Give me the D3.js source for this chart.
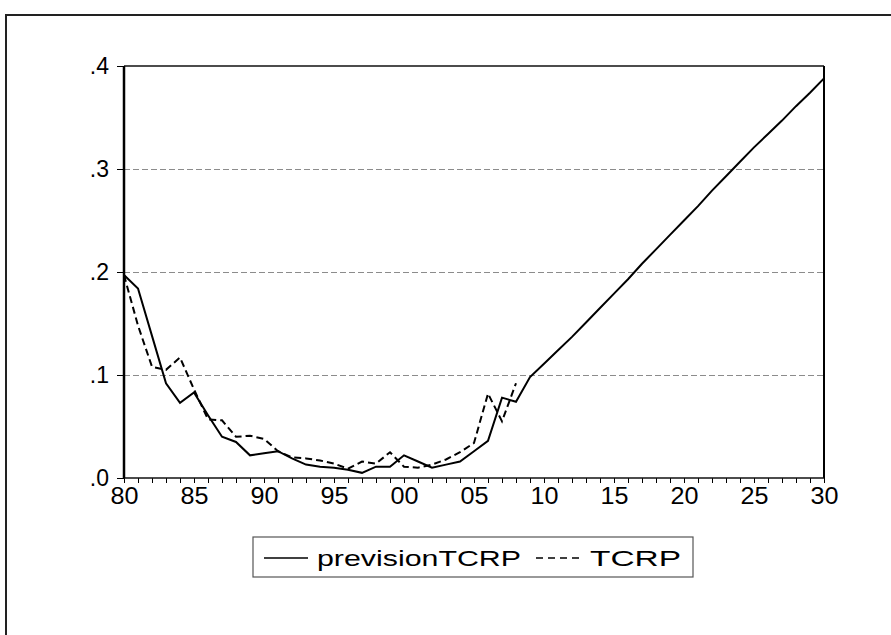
<!DOCTYPE html>
<html>
<head>
<meta charset="utf-8">
<script src="https://cdn.jsdelivr.net/npm/d3@7"></script>
<style>
  html, body { margin: 0; padding: 0; background: #fff; }
  svg { display: block; }
  text { font-family: Arial, "Liberation Sans", sans-serif; fill: #000; }
</style>
</head>
<body>
<svg id="chart" width="891" height="635"></svg>
<script>
const years = d3.range(1980, 2031);
const previsionTCRP = [
  0.197, 0.184, 0.138, 0.092, 0.073, 0.083, 0.061, 0.040, 0.035, 0.022,
  0.024, 0.026, 0.019, 0.013, 0.011, 0.010, 0.008, 0.005, 0.011, 0.011,
  0.022, 0.016, 0.010, 0.013, 0.016, 0.026, 0.036, 0.078, 0.074, 0.098,
  0.111, 0.124, 0.137, 0.151, 0.165, 0.179, 0.193, 0.208, 0.222, 0.236,
  0.250, 0.264, 0.279, 0.293, 0.307, 0.321, 0.334, 0.347, 0.361, 0.374,
  0.388
];
const TCRP = [
  0.197, 0.148, 0.108, 0.105, 0.117, 0.086, 0.057, 0.056, 0.040, 0.041,
  0.038, 0.026, 0.020, 0.019, 0.017, 0.014, 0.009, 0.016, 0.014, 0.025,
  0.011, 0.010, 0.013, 0.018, 0.025, 0.034, 0.082, 0.055, 0.092
];
const xTickYears = [1980, 1985, 1990, 1995, 2000, 2005, 2010, 2015, 2020, 2025, 2030];
const xTickLabels = ["80", "85", "90", "95", "00", "05", "10", "15", "20", "25", "30"];
const yTicks = [0, 0.1, 0.2, 0.3, 0.4];
const yTickLabels = [".0", ".1", ".2", ".3", ".4"];
const gridValues = [0.1, 0.2, 0.3];
const seriesNames = ["previsionTCRP", "TCRP"];

const svg = d3.select("#chart");
const L = 124, R = 824, T = 66, B = 478;
const x = d3.scaleLinear().domain([1980, 2030]).range([L, R]);
const y = d3.scaleLinear().domain([0, 0.4]).range([B, T]);

// outer frame (left & top visible)
svg.append("path").attr("d", `M6,635 L6,15 L891,15`)
  .attr("fill", "none").attr("stroke", "#222").attr("stroke-width", 2);

// grid lines
svg.append("g").selectAll("line").data(gridValues).join("line")
  .attr("x1", L).attr("x2", R)
  .attr("y1", d => y(d) + 0.5).attr("y2", d => y(d) + 0.5)
  .attr("stroke", "#8c8c8c").attr("stroke-width", 1)
  .attr("shape-rendering", "crispEdges")
  .attr("stroke-dasharray", "6,3");

// x axis
const xAxis = d3.axisBottom(x)
  .tickValues(years)
  .tickSize(5)
  .tickPadding(5)
  .tickFormat(d => { const i = xTickYears.indexOf(d); return i >= 0 ? xTickLabels[i] : ""; });
const gx = svg.append("g").attr("transform", `translate(0,${B})`).call(xAxis);
gx.select(".domain").remove();
gx.selectAll(".tick line").attr("stroke", "#000").attr("stroke-width", 1);
gx.selectAll(".tick text")
  .attr("font-size", 23)
  .attr("font-family", "Arial, 'Liberation Sans', sans-serif")
  .each(function() {
    const t = d3.select(this);
    if (t.text() !== "") t.attr("textLength", 28).attr("lengthAdjust", "spacingAndGlyphs");
  });

// y axis
const yAxis = d3.axisLeft(y)
  .tickValues(yTicks)
  .tickSize(7)
  .tickPadding(8)
  .tickFormat((d, i) => yTickLabels[i]);
const gy = svg.append("g").attr("transform", `translate(${L},0)`).call(yAxis);
gy.select(".domain").remove();
gy.selectAll(".tick line").attr("stroke", "#000").attr("stroke-width", 1);
gy.selectAll(".tick text")
  .attr("font-size", 23)
  .attr("font-family", "Arial, 'Liberation Sans', sans-serif");

// plot frame
svg.append("line").attr("x1", L).attr("x2", R).attr("y1", T).attr("y2", T)
  .attr("stroke", "#111").attr("stroke-width", 1.5);
svg.append("line").attr("x1", R).attr("x2", R).attr("y1", T).attr("y2", B)
  .attr("stroke", "#000").attr("stroke-width", 2);
svg.append("line").attr("x1", L).attr("x2", R).attr("y1", B).attr("y2", B)
  .attr("stroke", "#111").attr("stroke-width", 1.5);
svg.append("line").attr("x1", L).attr("x2", L).attr("y1", T).attr("y2", B)
  .attr("stroke", "#000").attr("stroke-width", 2.5);

const line = d3.line().x(d => x(d[0])).y(d => y(d[1]));
svg.append("path")
  .datum(TCRP.map((v, i) => [years[i], v]))
  .attr("d", line).attr("fill", "none")
  .attr("stroke", "#000").attr("stroke-width", 2)
  .attr("stroke-dasharray", "7,4");
svg.append("path")
  .datum(previsionTCRP.map((v, i) => [years[i], v]))
  .attr("d", line).attr("fill", "none")
  .attr("stroke", "#000").attr("stroke-width", 2);

// legend
const lg = svg.append("g");
lg.append("rect").attr("x", 253).attr("y", 537).attr("width", 440).attr("height", 40)
  .attr("fill", "#fff").attr("stroke", "#555").attr("stroke-width", 1.2);
lg.append("line").attr("x1", 264).attr("x2", 308).attr("y1", 558).attr("y2", 558)
  .attr("stroke", "#000").attr("stroke-width", 1.5);
lg.append("text").attr("x", 317).attr("y", 566).attr("font-size", 22)
  .attr("textLength", 204).attr("lengthAdjust", "spacingAndGlyphs").text(seriesNames[0]);
lg.append("line").attr("x1", 536).attr("x2", 580).attr("y1", 558).attr("y2", 558)
  .attr("stroke", "#000").attr("stroke-width", 1.5).attr("stroke-dasharray", "7,5");
lg.append("text").attr("x", 590).attr("y", 566).attr("font-size", 22)
  .attr("textLength", 91).attr("lengthAdjust", "spacingAndGlyphs").text(seriesNames[1]);
</script>
</body>
</html>
